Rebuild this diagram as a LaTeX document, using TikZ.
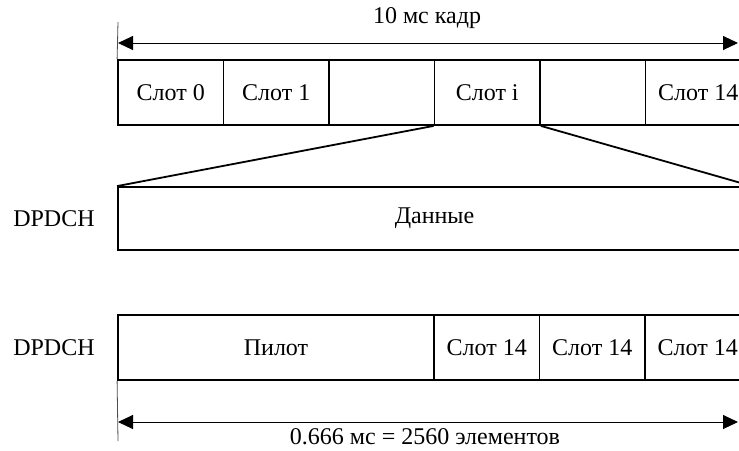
\documentclass[tikz,border=0pt]{standalone}
\usepackage{fontspec}
\setmainfont{Liberation Serif}
\usetikzlibrary{arrows.meta}

\tikzset{
  slot/.style={draw, line width=0.9pt, minimum width=52.75pt, minimum height=32.5pt, inner sep=0pt, font=\fontsize{12}{14}\selectfont},
  chan/.style={font=\fontsize{12}{14}\selectfont},
  dimline/.style={line width=0.5pt, {Triangle[length=7.5pt,width=7pt]}-{Triangle[length=7.5pt,width=7pt]}},
  tickline/.style={line width=0.4pt, black!70}
}

\begin{document}
\begin{tikzpicture}[x=0.5pt,y=-0.5pt]
\useasboundingbox (0,0) rectangle (739,450);
\foreach \i/\t in {0/Слот 0,1/Слот 1,2/,3/Слот i,4/,5/Слот 14}
  \node[slot] (t\i) at ({118+105.5*(\i+0.5)},92.5) {\t};
\node[slot, minimum width=316.5pt, minimum height=31.5pt] (data) at (434.5,218.5) {Данные};
\node[slot, minimum width=158pt] (pilot) at (276,347.5) {Пилот};
\foreach \i in {0,1,2}
  \node[slot] (b\i) at ({434+105.5*(\i+0.5)},347.5) {Слот 14};
\node[chan] (ch1) at (54,218.5) {DPDCH};
\node[chan] (ch2) at (54,347.5) {DPDCH};
\draw[line width=0.9pt] (t3.south west) -- (data.north west);
\draw[line width=0.9pt] (t3.south east) -- (data.north east);
\coordinate (ttop) at (118,22);
\coordinate (tl) at (118,43);
\coordinate (tr) at (738,43);
\coordinate (bbot) at (118,441);
\coordinate (bl) at (118,422);
\coordinate (br) at (738,422);
\draw[tickline] (ttop) -- (t0.north west);
\draw[tickline] (pilot.south west) -- (bbot);
\draw[dimline] (tl) -- (tr);
\draw[dimline] (bl) -- (br);
\node[chan] (frame) at (427,18) {10 мс кадр};
\node[chan] (len) at (425,437) {0.666 мс = 2560 элементов};
\end{tikzpicture}
\end{document}
